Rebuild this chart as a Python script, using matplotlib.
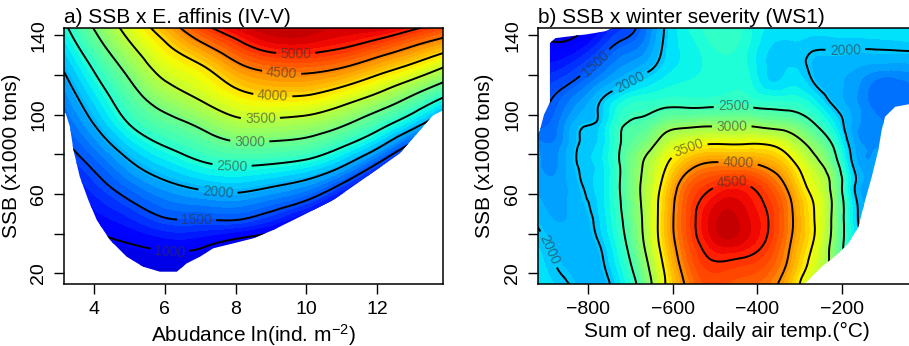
import numpy as np
import matplotlib
matplotlib.use("Agg")
import matplotlib.pyplot as plt
import matplotlib.tri as mtri
from matplotlib.patches import Polygon
from matplotlib.colors import ListedColormap

plt.rcParams['font.family'] = ['Liberation Sans', 'DejaVu Sans']
plt.rcParams['mathtext.fontset'] = 'custom'
plt.rcParams['mathtext.rm'] = 'Liberation Sans'
plt.rcParams['mathtext.it'] = 'Liberation Sans:italic'
plt.rcParams['mathtext.default'] = 'regular'

# ---------------- Panel a: SSB x E. affinis (IV-V) ----------------
a_abund = [3.15, 4, 5, 6, 7, 8, 9, 10, 11, 12, 13, 13.9]
a_ssb = [14, 25, 35, 45, 55, 65, 75, 85, 95, 105, 115, 125, 135, 145]
a_recruit = [
    [650, 700, 750, 750, 700, 650, 550, 500, 400, 250, 200, 250],
    [700, 780, 850, 880, 850, 750, 650, 600, 450, 300, 200, 250],
    [770, 900, 1000, 1100, 1071, 900, 800, 750, 550, 350, 250, 250],
    [870, 1065, 1227, 1410, 1429, 1412, 1227, 950, 700, 450, 300, 250],
    [1000, 1226, 1455, 1684, 1767, 1801, 1660, 1409, 970, 600, 350, 250],
    [1150, 1387, 1700, 1947, 2103, 2167, 2065, 1900, 1490, 900, 500, 350],
    [1300, 1565, 1950, 2235, 2448, 2540, 2500, 2385, 2071, 1480, 800, 500],
    [1450, 1783, 2222, 2530, 2758, 2940, 2935, 2854, 2572, 2134, 1440, 900],
    [1600, 2000, 2500, 2820, 3071, 3354, 3370, 3288, 3052, 2667, 2161, 1570],
    [1740, 2185, 2717, 3125, 3429, 3717, 3804, 3771, 3532, 3187, 2741, 2250],
    [1890, 2370, 2935, 3440, 3716, 4056, 4239, 4243, 4058, 3733, 3326, 2900],
    [2060, 2570, 3185, 3700, 3986, 4426, 4674, 4714, 4578, 4287, 3960, 3574],
    [2250, 2810, 3450, 3950, 4413, 4864, 5167, 5190, 5070, 4845, 4537, 4256],
    [2440, 3050, 3700, 4270, 4900, 5300, 5450, 5450, 5350, 5380, 5150, 4870],
]
# outline of the region covered by data (outside is blank)
a_edge_abund = [3.15, 13.86, 13.86, 13.58, 12.64, 11.7, 10.76, 9.82, 9.06, 8.5, 7.94,
                7.37, 7.0, 6.62, 6.34, 5.86, 5.39, 4.92, 4.45, 4.08, 3.84, 3.6, 3.42,
                3.32, 3.2, 3.15]
a_edge_ssb = [143.6, 143.6, 102.2, 99.7, 80.4, 68.6, 56.9, 48.5, 41.8, 37.6, 35.1,
              32.6, 28.4, 25.0, 20.8, 20.8, 23.3, 28.4, 36.8, 46.8, 56.9, 68.6, 82.1,
              93.8, 100.6, 100.6]
a_levels = [1000, 1500, 2000, 2500, 3000, 3500, 4000, 4500, 5000]

# ---------------- Panel b: SSB x winter severity (WS1) ----------------
b_temp = [-925, -870, -820, -770, -720, -670, -620, -570, -520, -470, -420,
          -370, -320, -270, -220, -170, -120, -70, -15]
b_ssb = [14, 25, 35, 45, 55, 65, 75, 85, 95, 105, 115, 125, 135, 145]
b_cols = [
    [2200, 2150, 2080, 2000, 1930, 1870, 1820, 1750, 1560, 1450, 1350, 1220, 1080, 950],
    [2050, 1980, 1930, 1880, 1840, 1810, 1780, 1740, 1680, 1590, 1440, 1235, 1030, 850],
    [1960, 1930, 1900, 1920, 1950, 1985, 2015, 2010, 1960, 1810, 1600, 1375, 1130, 900],
    [1930, 1970, 2020, 2080, 2110, 2130, 2130, 2110, 2070, 2030, 1810, 1570, 1350, 1150],
    [2180, 2300, 2400, 2480, 2530, 2560, 2560, 2530, 2470, 2300, 1980, 1760, 1560, 1350],
    [2690, 2850, 2980, 3030, 3060, 3060, 3010, 2800, 2580, 2400, 2120, 1880, 1700, 1600],
    [3470, 3560, 3680, 3720, 3700, 3600, 3440, 3180, 2810, 2450, 2230, 2080, 2030, 2010],
    [4020, 4150, 4250, 4300, 4280, 4150, 3820, 3400, 2900, 2450, 2280, 2200, 2200, 2250],
    [4350, 4450, 4600, 4680, 4600, 4400, 4030, 3500, 2940, 2450, 2300, 2280, 2330, 2400],
    [4300, 4470, 4750, 4850, 4760, 4520, 4050, 3500, 2935, 2470, 2320, 2330, 2400, 2450],
    [4250, 4420, 4650, 4720, 4650, 4480, 4030, 3510, 2950, 2460, 2300, 2250, 2270, 2300],
    [4100, 4280, 4420, 4480, 4430, 4250, 3900, 3480, 2870, 2420, 2100, 2050, 2080, 2150],
    [3730, 3900, 3990, 4050, 4020, 3850, 3600, 3250, 2790, 2400, 2150, 2060, 2060, 2120],
    [3200, 3400, 3520, 3560, 3530, 3380, 3180, 2900, 2550, 2260, 2030, 1970, 2030, 2120],
    [2900, 2880, 2880, 2930, 2950, 2880, 2700, 2470, 2200, 1990, 1900, 1930, 2030, 2120],
    [2200, 2200, 2150, 2120, 2090, 2030, 1950, 1870, 1830, 1810, 1820, 1900, 2030, 2120],
    [1800, 1800, 1780, 1750, 1780, 1800, 1800, 1760, 1700, 1640, 1640, 1860, 2030, 2150],
    [1700, 1700, 1700, 1700, 1700, 1700, 1700, 1680, 1650, 1630, 1620, 1850, 2040, 2150],
    [1750, 1750, 1750, 1750, 1750, 1750, 1750, 1730, 1700, 1700, 1720, 1860, 2050, 2150],
]
b_edge_temp = [-925, -925, -915, -905, -891, -891, -878, -840, -800, -760, -742,
               -10, -10, -73, -97, -105, -113, -128.5, -144, -160, -184, -207.6,
               -247, -278.7, -292]
b_edge_ssb = [14, 88, 92, 100, 106, 136, 138.5, 139.5, 140.5, 142, 143.6,
              143.6, 106.4, 103.9, 98.9, 92.2, 82, 68.6, 56.9, 43.5, 35.1, 30,
              23.3, 16.6, 14]
b_levels = [1000, 1500, 2000, 2500, 3000, 3500, 4000, 4500]

cmap = ListedColormap(plt.get_cmap('jet')(np.linspace(0.08, 0.95, 256)))


def smooth_surface(x, y, Z, subdiv=3):
    """Let matplotlib's triangulation refiner draw smooth contours through the grid."""
    x = np.asarray(x, float)
    y = np.asarray(y, float)
    sx = (x.max() - x.min()) / 1.48
    sy = (y.max() - y.min())
    XN, YN = np.meshgrid((x - x.min()) / sx, (y - y.min()) / sy)
    tri = mtri.Triangulation(XN.ravel(), YN.ravel())
    interp = mtri.CubicTriInterpolator(tri, Z.ravel(), kind='min_E')
    rtri, rz = mtri.UniformTriRefiner(tri).refine_field(Z.ravel(), triinterpolator=interp,
                                                        subdiv=subdiv)
    out = mtri.Triangulation(rtri.x * sx + x.min(), rtri.y * sy + y.min(), rtri.triangles)
    return out, rz


def panel(ax, x, y, z, ex, ey, levels, vmin, vmax, label_pos):
    Z = np.asarray(z, dtype=float)
    tri, rz = smooth_surface(x, y, Z)
    fill = np.linspace(vmin, vmax, 42)
    cf = ax.tricontourf(tri, rz, levels=fill, cmap=cmap, extend='both')
    cl = ax.tricontour(tri, rz, levels=levels, colors='black', linewidths=1.4)
    texts = ax.clabel(cl, inline=True, fmt='%d', fontsize=10,
                      manual=label_pos, colors='#333333', inline_spacing=4)
    for t in texts:
        t.set_alpha(0.6)
    poly = Polygon(np.column_stack([ex, ey]), closed=True,
                   transform=ax.transData, facecolor='none', edgecolor='none')
    cf.set_clip_path(poly)
    cl.set_clip_path(poly)


fig = plt.figure(figsize=(9.09, 3.46), dpi=100)
axa = fig.add_axes([64 / 909, 62 / 346, 379 / 909, 256 / 346])
axb = fig.add_axes([537.7 / 909, 62 / 346, 379 / 909, 256 / 346])

panel(axa, a_abund, a_ssb, a_recruit, a_edge_abund, a_edge_ssb, a_levels, 850, 5450,
      [(9.7, 130.8), (9.3, 120.7), (9.05, 109.3), (8.7, 98), (8.4, 86.3),
       (7.9, 74), (7.5, 60.7), (6.9, 46.8), (6.15, 31.8)])

b_grid = np.array(b_cols, dtype=float).T
panel(axb, b_temp, b_ssb, b_grid, b_edge_temp, b_edge_ssb, b_levels, 900, 4900,
      [(-784, 126), (-700, 116), (-883, 33), (-456, 103.6), (-460, 93.5),
       (-563, 83), (-445, 76), (-460, 64.5), (-191, 131.3)])

for ax in (axa, axb):
    ax.set_ylim(14.6, 143.6)
    ax.set_yticks([20, 40, 60, 80, 100, 120, 140])
    ax.set_yticklabels(['20', '', '60', '', '100', '', '140'], rotation=90, va='center')
    ax.tick_params(direction='out', length=7, width=1.0, labelsize=14, pad=5)
    for s in ax.spines.values():
        s.set_linewidth(1.1)
    ax.set_ylabel('SSB (x1000 tons)', fontsize=15, labelpad=7)

axa.set_xlim(3.153, 13.86)
axa.set_xticks([4, 6, 8, 10, 12])
axa.set_xlabel(r'Abudance ln(ind. m$^{-2}$)', fontsize=15, labelpad=3)
axa.set_title('a) SSB x E. affinis (IV-V)', loc='left', fontsize=15, pad=3.5)

axb.set_xlim(-920, -22)
axb.set_xticks([-800, -600, -400, -200])
axb.set_xlabel('Sum of neg. daily air temp.(°C)', fontsize=15, labelpad=3)
axb.set_title('b) SSB x winter severity (WS1)', loc='left', fontsize=15, pad=3.5)

fig.savefig('out.png', dpi=100)
